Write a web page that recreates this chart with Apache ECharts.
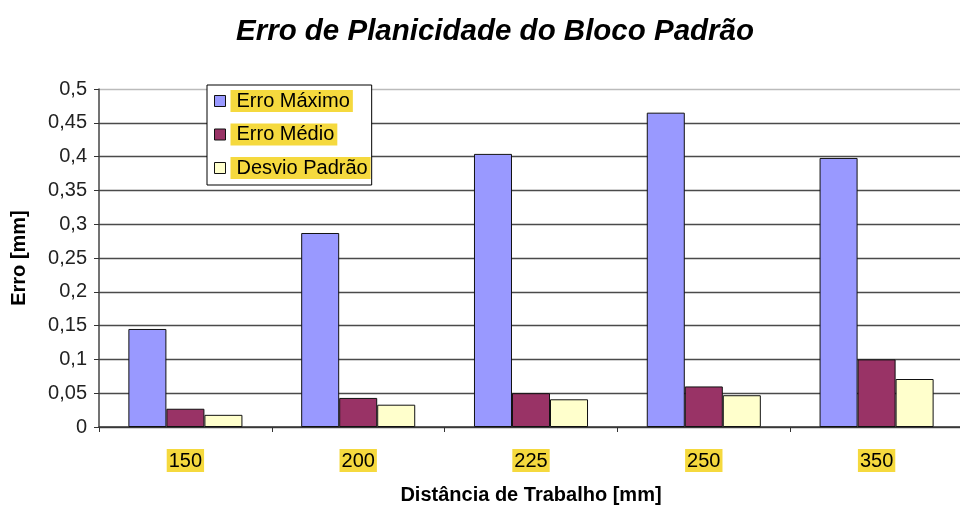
<!DOCTYPE html>
<html><head><meta charset="utf-8">
<script src="https://cdn.jsdelivr.net/npm/echarts@6/dist/echarts.min.js"></script>
<style>html,body{margin:0;padding:0;background:#fff}#c{width:960px;height:509px}</style>
</head><body><div id="c"></div>
<script>
const categories = ['150', '200', '225', '250', '350'];
const erroMaximo = [0.145, 0.287, 0.404, 0.465, 0.398];
const erroMedio = [0.027, 0.043, 0.050, 0.060, 0.100];
const desvioPadrao = [0.018, 0.033, 0.041, 0.047, 0.071];
const yTicks = [0, 0.05, 0.1, 0.15, 0.2, 0.25, 0.3, 0.35, 0.4, 0.45, 0.5];

const FONT = 'Liberation Sans, Arial, sans-serif';
const YELLOW = '#f5d93e';
const chart = echarts.init(document.getElementById('c'));
const barStyle = (c) => ({ color: c, borderColor: '#111', borderWidth: 1 });
chart.setOption({
  animation: false,
  backgroundColor: '#fff',
  title: {
    text: 'Erro de Planicidade do Bloco Padrão',
    left: 490, top: 12, textAlign: 'center',
    textStyle: { fontFamily: FONT, fontSize: 29.5, fontWeight: 'bold', fontStyle: 'italic', color: '#000' }
  },
  legend: {
    orient: 'vertical', left: 207, top: 85,
    backgroundColor: '#fff', borderColor: '#000', borderWidth: 1,
    padding: [5, 1, 6, 7], itemGap: 11.5, itemWidth: 11, itemHeight: 11,
    icon: 'rect',
    itemStyle: { borderColor: '#111', borderWidth: 1 },
    textStyle: { fontFamily: FONT, fontSize: 20, color: '#000', backgroundColor: YELLOW, padding: [1, 3, 0, 6], lineHeight: 21 },
    data: ['Erro Máximo', 'Erro Médio', 'Desvio Padrão']
  },
  grid: { left: 99, top: 89, width: 864, height: 338, containLabel: false, outerBoundsMode: 'none' },
  xAxis: {
    type: 'category', data: categories,
    name: 'Distância de Trabalho [mm]', nameLocation: 'middle', nameGap: 58,
    nameTextStyle: { fontFamily: FONT, fontSize: 20, fontWeight: 'bold', color: '#000' },
    axisLine: { lineStyle: { color: '#333', width: 1.5 } },
    axisTick: { show: true, length: 5, lineStyle: { color: '#333' } },
    axisLabel: { fontFamily: FONT, fontSize: 20, color: '#000', margin: 22, backgroundColor: YELLOW, padding: [2, 2, 1, 2] }
  },
  yAxis: {
    type: 'value', min: 0, max: 0.5, interval: 0.05,
    name: 'Erro [mm]', nameLocation: 'middle', nameGap: 70,
    nameTextStyle: { fontFamily: FONT, fontSize: 20, fontWeight: 'bold', color: '#000' },
    axisLine: { show: true, lineStyle: { color: '#444', width: 1.5 } },
    axisTick: { show: true, length: 5, inside: false, lineStyle: { color: '#333' } },
    splitLine: { show: true, lineStyle: { color: ['#4a4a4a', '#4a4a4a', '#4a4a4a', '#4a4a4a', '#4a4a4a', '#4a4a4a', '#4a4a4a', '#4a4a4a', '#4a4a4a', '#4a4a4a', '#bbb'], width: 1.3 } },
    axisLabel: {
      fontFamily: FONT, fontSize: 20, color: '#222', margin: 12,
      formatter: (v) => {
        const t = yTicks.find(x => Math.abs(x - v) < 1e-9);
        return (t === undefined ? v : t).toString().replace('.', ',');
      }
    }
  },
  series: [
    { name: 'Erro Máximo', type: 'bar', data: erroMaximo, itemStyle: barStyle('#9999ff'), barGap: '0%', barCategoryGap: '34%' },
    { name: 'Erro Médio', type: 'bar', data: erroMedio, itemStyle: barStyle('#993366'), barGap: '0%', barCategoryGap: '34%' },
    { name: 'Desvio Padrão', type: 'bar', data: desvioPadrao, itemStyle: barStyle('#ffffcc'), barGap: '0%', barCategoryGap: '34%' }
  ]
});
</script></body></html>
